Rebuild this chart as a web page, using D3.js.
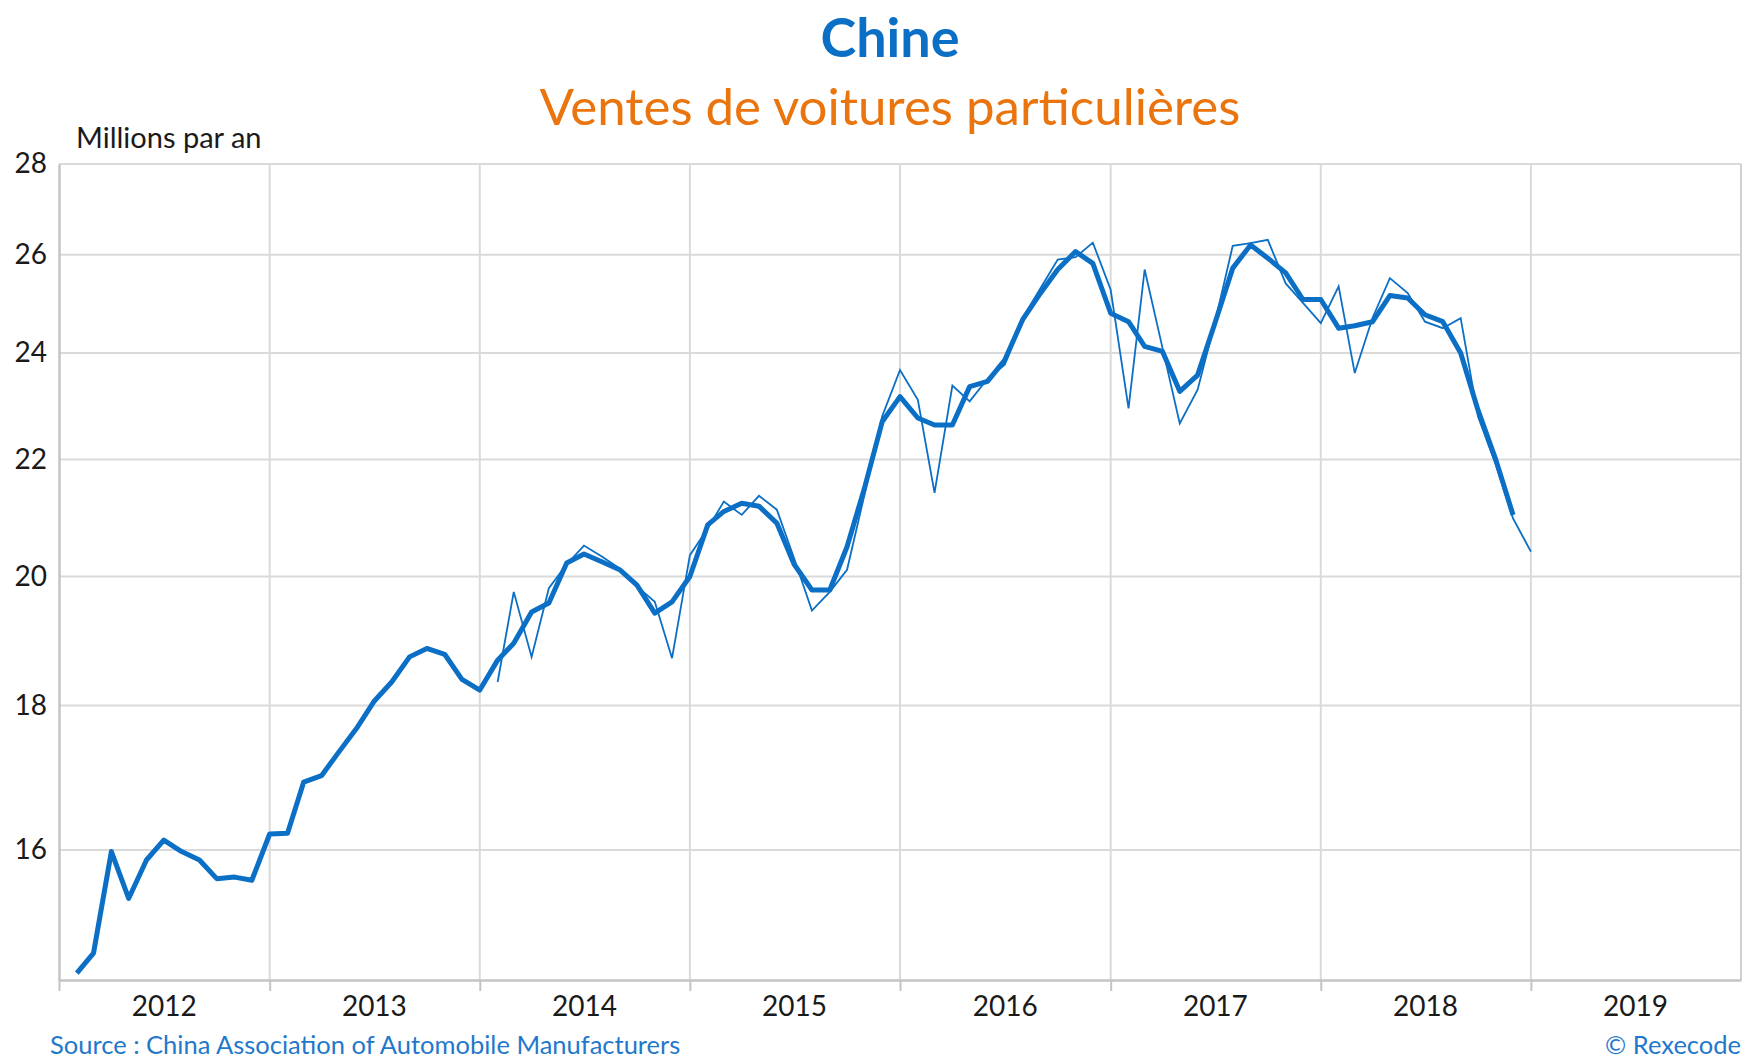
<!DOCTYPE html>
<html lang="fr">
<head>
<meta charset="UTF-8">
<title>Chine - Ventes de voitures particulières</title>
<script src="https://cdn.jsdelivr.net/npm/d3@7"></script>
<style>
  body { margin: 0; background: #fff; }
  svg { display: block; font-family: Lato, "Noto Sans", sans-serif; }
</style>
</head>
<body>
<svg id="chart" width="1744" height="1058"></svg>
<script>
// monthly sales, annualised (millions), first value = January of start month
var smoothStart = "2012-01";
var smoothValues = [
  14.47, 14.71, 15.98, 15.38, 15.87, 16.13, 15.98, 15.87, 15.63, 15.65, 15.61, 16.21,
  16.22, 16.91, 17.00, 17.33, 17.67, 18.06, 18.35, 18.73, 18.86, 18.77, 18.39, 18.23,
  18.68, 18.94, 19.43, 19.57, 20.22, 20.37, 20.24, 20.11, 19.86, 19.41, 19.59, 20.00,
  20.86, 21.09, 21.23, 21.18, 20.89, 20.20, 19.78, 19.78, 20.49, 21.52, 22.69, 23.16,
  22.76, 22.63, 22.63, 23.35, 23.45, 23.86, 24.66, 25.20, 25.69, 26.07, 25.82, 24.79,
  24.62, 24.13, 24.03, 23.26, 23.57, 24.59, 25.72, 26.21, 25.93, 25.62, 25.07, 25.07,
  24.49, 24.54, 24.62, 25.15, 25.10, 24.76, 24.62, 24.00, 22.91, 22.00, 21.03
];
var rawStart = "2014-01";
var rawValues = [
  18.35, 19.75, 18.73, 19.81, 20.20, 20.51, 20.33, 20.13, 19.84, 19.59, 18.71, 20.35,
  20.80, 21.26, 21.03, 21.36, 21.12, 20.30, 19.45, 19.75, 20.11, 21.41, 22.79, 23.67,
  23.10, 21.41, 23.37, 23.07, 23.50, 23.77, 24.69, 25.30, 25.90, 25.95, 26.26, 25.27,
  22.94, 25.69, 24.10, 22.66, 23.29, 24.60, 26.19, 26.25, 26.32, 25.40, 25.00, 24.59,
  25.34, 23.61, 24.70, 25.51, 25.20, 24.62, 24.49, 24.69, 22.79, 21.91, 20.97, 20.41
];
var years = [2012, 2013, 2014, 2015, 2016, 2017, 2018, 2019];
var yTicks = [16, 18, 20, 22, 24, 26, 28];

var blue = "#0b6fc6";
var svg = d3.select("#chart");

var plotLeft = 59, plotRight = 1741, plotTop = 164, plotBottom = 980;

var parseMonth = d3.timeParse("%Y-%m");

// each point sits at the end of its month
function toPoints(start, values) {
  var d0 = parseMonth(start);
  return values.map(function (v, i) {
    return { date: d3.timeMonth.offset(d0, i + 1), value: v };
  });
}

var x = d3.scaleTime()
  .domain([new Date(2012, 0, 1), new Date(2020, 0, 1)])
  .range([plotLeft, plotRight]);

var y = d3.scaleLog()
  .domain([14.39, 28])
  .range([plotBottom, plotTop]);

var yearStarts = years.concat([2020]).map(function (yr) { return new Date(yr, 0, 1); });

// horizontal grid
svg.append("g")
  .selectAll("line")
  .data(yTicks)
  .enter().append("line")
  .attr("x1", plotLeft).attr("x2", plotRight)
  .attr("y1", d => y(d)).attr("y2", d => y(d))
  .attr("stroke", "#dadada")
  .attr("stroke-width", 2);

// vertical grid at year boundaries
svg.append("g")
  .selectAll("line")
  .data(yearStarts.slice(1, -1))
  .enter().append("line")
  .attr("x1", d => x(d)).attr("x2", d => x(d))
  .attr("y1", plotTop).attr("y2", plotBottom)
  .attr("stroke", "#dadada")
  .attr("stroke-width", 2);

// right border
svg.append("line")
  .attr("x1", plotRight).attr("x2", plotRight)
  .attr("y1", plotTop).attr("y2", plotBottom)
  .attr("stroke", "#d0d0d0")
  .attr("stroke-width", 2);

// x axis: ticks at year boundaries, labels in the middle of each year
var xAxis = svg.append("g")
  .attr("transform", "translate(0," + plotBottom + ")")
  .call(d3.axisBottom(x).tickValues(yearStarts.slice(0, -1)).tickSize(11).tickSizeOuter(0).tickFormat(""));
xAxis.select(".domain").attr("stroke", "#c4c4c4").attr("stroke-width", 2.5);
xAxis.selectAll(".tick line").attr("stroke", "#c4c4c4").attr("stroke-width", 2);

var xLabels = svg.append("g")
  .attr("transform", "translate(0," + plotBottom + ")")
  .call(d3.axisBottom(x)
    .tickValues(years.map(yr => new Date(yr, 6, 1)))
    .tickSize(0)
    .tickPadding(16)
    .tickFormat(d3.timeFormat("%Y")));
xLabels.select(".domain").remove();
xLabels.selectAll("text")
  .attr("fill", "#1a1a1a")
  .style("font-size", "28px")
  .style("font-family", "Lato, sans-serif");

// y axis
var yAxis = svg.append("g")
  .attr("transform", "translate(" + plotLeft + ",0)")
  .call(d3.axisLeft(y).tickValues(yTicks).tickSize(0).tickPadding(12).tickFormat(d3.format("d")));
yAxis.select(".domain").attr("stroke", "#c4c4c4").attr("stroke-width", 2.5);
yAxis.selectAll("text")
  .attr("fill", "#1a1a1a")
  .style("font-size", "28px")
  .style("font-family", "Lato, sans-serif");

var line = d3.line()
  .x(d => x(d.date))
  .y(d => y(d.value));

svg.append("path")
  .datum(toPoints(rawStart, rawValues))
  .attr("d", line)
  .attr("fill", "none")
  .attr("stroke", blue)
  .attr("stroke-width", 1.8)
  .attr("stroke-linejoin", "miter");

svg.append("path")
  .datum(toPoints(smoothStart, smoothValues))
  .attr("d", line)
  .attr("fill", "none")
  .attr("stroke", blue)
  .attr("stroke-width", 5)
  .attr("stroke-linejoin", "round");

// titles
svg.append("text")
  .attr("x", 890).attr("y", 57)
  .attr("text-anchor", "middle")
  .attr("fill", blue)
  .style("font-size", "54px")
  .style("font-weight", "bold")
  .text("Chine");

svg.append("text")
  .attr("x", 890).attr("y", 125)
  .attr("text-anchor", "middle")
  .attr("fill", "#ea750e")
  .style("font-size", "51px")
  .text("Ventes de voitures particulières");

svg.append("text")
  .attr("x", 76).attr("y", 148)
  .attr("fill", "#1a1a1a")
  .style("font-size", "29px")
  .text("Millions par an");

svg.append("text")
  .attr("x", 50).attr("y", 1054)
  .attr("fill", "#1f78cc")
  .style("font-size", "25.5px")
  .text("Source : China Association of Automobile Manufacturers");

svg.append("text")
  .attr("x", 1741).attr("y", 1054)
  .attr("text-anchor", "end")
  .attr("fill", "#1f78cc")
  .style("font-size", "25.5px")
  .text("© Rexecode");
</script>
</body>
</html>
